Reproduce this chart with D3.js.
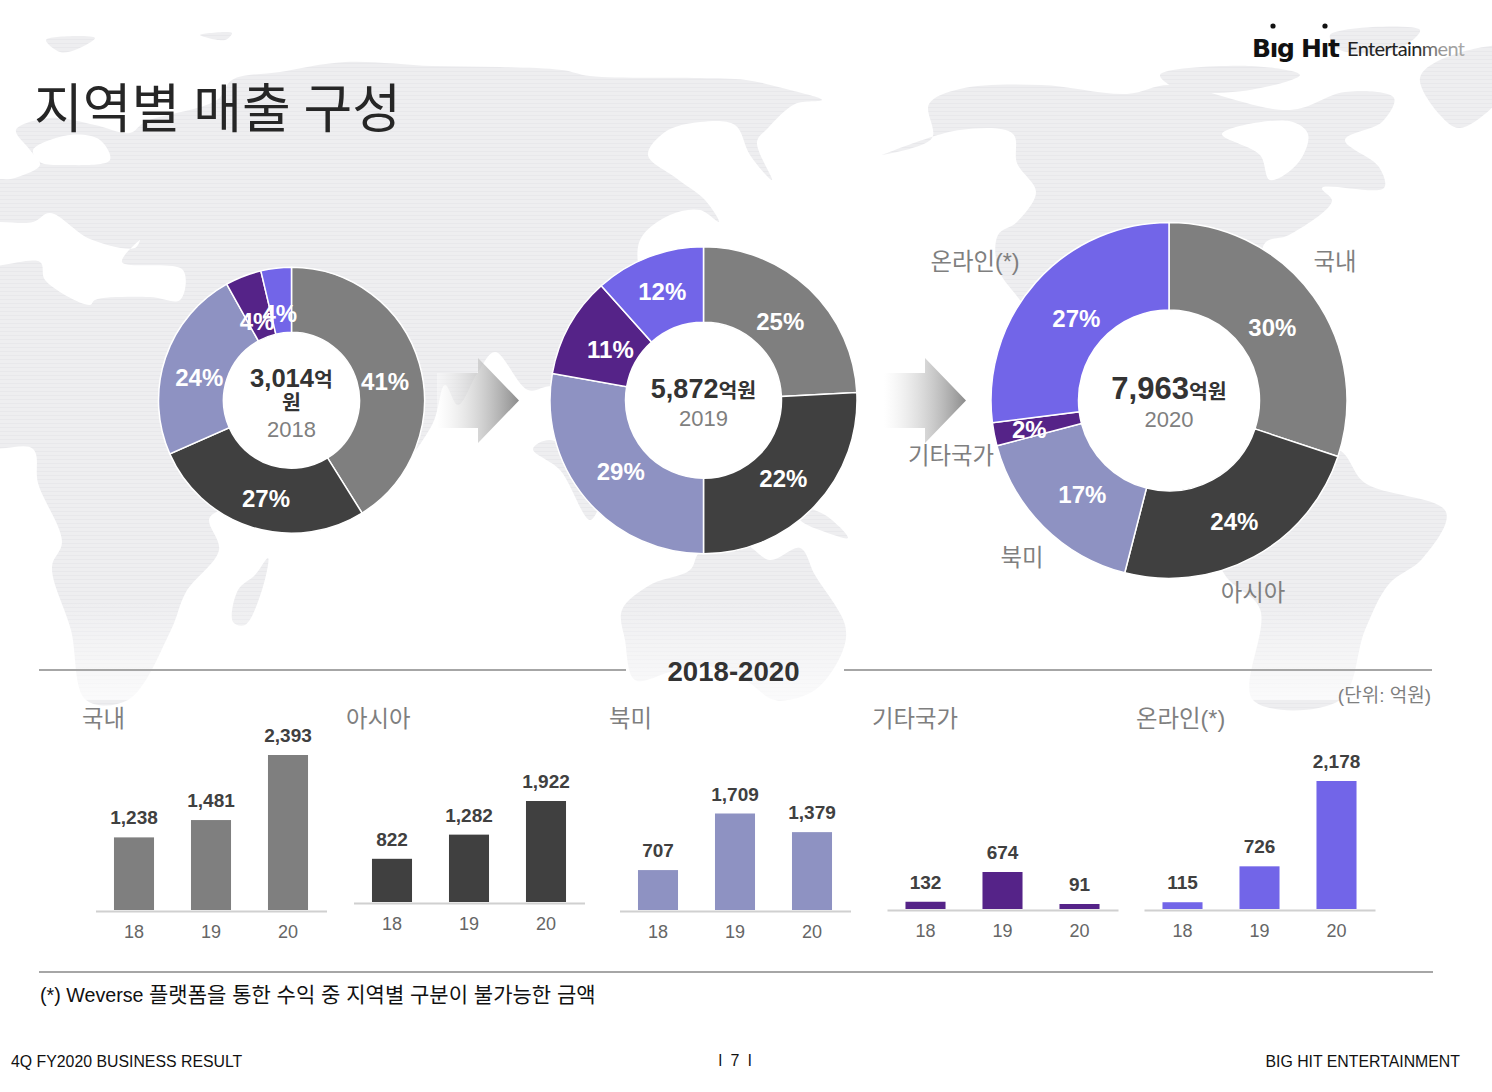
<!DOCTYPE html>
<html>
<head>
<meta charset="utf-8">
<style>
    body { margin: 0; background: white; }
    text { font-family: "Liberation Sans", "Noto Sans CJK KR", sans-serif; }
    .kr { font-family: "Noto Sans CJK KR", sans-serif; }
</style>
<script src="https://cdn.jsdelivr.net/npm/d3@7"></script>
</head>
<body>
<svg id="chart" width="1492" height="1092"></svg>
<script>
// ---- data ----
const regions = ["국내", "아시아", "북미", "기타국가", "온라인(*)"];
const years = ["18", "19", "20"];
const valuesDomestic = [1238, 1481, 2393];
const valuesAsia = [822, 1282, 1922];
const valuesNorthAmerica = [707, 1709, 1379];
const valuesOther = [132, 674, 91];
const valuesOnline = [115, 726, 2178];
const regionValues = [valuesDomestic, valuesAsia, valuesNorthAmerica, valuesOther, valuesOnline];

// slice sizes measured from the donuts (the 2019 donut is not drawn to its labels)
const sliceShare2018 = [41.1, 27.3, 23.5, 4.4, 3.7];
const sliceShare2019 = [24.2, 25.8, 27.8, 10.6, 11.6];
const sliceShare2020 = [30.1, 23.9, 16.9, 2.1, 27.0];
const pctLabels2018 = ["41%", "27%", "24%", "4%", "4%"];
const pctLabels2019 = ["25%", "22%", "29%", "11%", "12%"];
const pctLabels2020 = ["30%", "24%", "17%", "2%", "27%"];
const totals = ["3,014", "5,872", "7,963"];
const donutYears = ["2018", "2019", "2020"];

const colors = ["#7f7f7f", "#404040", "#8e92c2", "#552388", "#7265e8"];

// ---- layout ----
const svg = d3.select("#chart");
const defs = svg.append("defs");

let pattern = defs.append("pattern").attr("id", "land").attr("patternUnits", "userSpaceOnUse")
    .attr("width", 8).attr("height", 4);
pattern.append("rect").attr("width", 8).attr("height", 4).attr("fill", "#eeeef0");
pattern.append("rect").attr("y", 3).attr("width", 8).attr("height", 1).attr("fill", "#e8e8eb");

let fade = defs.append("linearGradient").attr("id", "fade").attr("x1", 0).attr("x2", 0).attr("y1", 0).attr("y2", 1);
fade.append("stop").attr("offset", 0).attr("stop-color", "white").attr("stop-opacity", 0);
fade.append("stop").attr("offset", 1).attr("stop-color", "white").attr("stop-opacity", 0.75);

let arrowGrad = defs.append("linearGradient").attr("id", "arrow");
arrowGrad.append("stop").attr("offset", 0).attr("stop-color", "#ffffff").attr("stop-opacity", 0.4);
arrowGrad.append("stop").attr("offset", 1).attr("stop-color", "#8c8c8c");

// background world map, rough outlines only
const landShapes = [
    // afro-eurasia
    [[-20,185],[15,178],[40,165],[30,150],[16,130],[50,118],[95,125],[130,133],[145,122],[217,100],[232,80],[280,72],[345,62],[432,66],[500,67],[562,70],[590,76],[700,78],[746,80],[790,90],[822,100],[795,104],[768,128],[757,142],[772,180],[750,155],[735,125],[700,122],[665,132],[648,155],[676,178],[705,200],[719,222],[700,210],[670,215],[640,240],[640,300],[620,400],[552,386],[528,390],[495,352],[478,372],[458,405],[445,385],[432,425],[385,480],[300,500],[210,517],[219,550],[186,592],[171,630],[128,700],[86,700],[71,630],[52,567],[62,542],[38,483],[33,449],[-20,443]],
    // madagascar
    [[268,558],[262,590],[245,625],[233,622],[238,590],[255,575]],
    // se asia
    [[533,449],[560,470],[590,520],[600,500],[590,470],[550,440]],
    // new guinea
    [[793,505],[825,515],[848,538],[825,532],[800,520]],
    // australia
    [[625,640],[622,610],[650,585],[690,570],[700,552],[745,545],[770,560],[800,548],[815,575],[845,625],[843,650],[815,690],[775,700],[745,680],[700,665],[670,672],[635,680]],
    // north america
    [[882,155],[932,138],[929,104],[960,89],[1041,85],[1127,94],[1170,85],[1290,110],[1345,92],[1394,98],[1382,122],[1345,140],[1379,167],[1384,188],[1322,188],[1332,201],[1289,235],[1265,243],[1260,300],[1240,420],[1120,420],[1020,300],[998,268],[998,235],[1017,222],[1036,192],[1017,163],[1013,134],[960,130]],
    // south america
    [[1200,500],[1336,449],[1365,483],[1446,512],[1422,559],[1389,584],[1365,630],[1340,700],[1253,700],[1260,609],[1225,575]],
    // greenland and arctic islands
    [[1510,48],[1440,60],[1420,78],[1440,115],[1460,128],[1510,85]],
    [[1160,75],[1251,66],[1300,75],[1250,90],[1180,90]],
    [[1330,35],[1420,30],[1400,48],[1340,50]],
    [[46,40],[95,38],[75,50],[60,52]],
    [[200,35],[232,33],[225,40]]
];
const seaShapes = [
    [[-20,226],[33,222],[50,213],[90,239],[135,248],[140,240],[122,262],[183,270],[180,300],[150,297],[95,300],[90,305],[45,280],[40,262],[-20,264]],
    [[33,150],[70,135],[100,140],[110,160],[65,165],[40,162]],
    [[1222,134],[1289,121],[1308,134],[1298,163],[1270,180],[1260,155]]
];

const blob = d3.line().curve(d3.curveCatmullRomClosed.alpha(0.5));
svg.append("g").selectAll("path").data(landShapes).enter().append("path")
    .attr("d", d => blob(d)).attr("fill", "url(#land)");
svg.append("g").selectAll("path").data(seaShapes).enter().append("path")
    .attr("d", d => blob(d)).attr("fill", "white");
svg.append("rect").attr("x", 0).attr("y", 600).attr("width", 1492).attr("height", 100).attr("fill", "url(#fade)");

// title + logo
svg.append("text").attr("class", "kr").attr("x", 34).attr("y", 127.5).attr("font-size", 53).attr("word-spacing", 1).attr("fill", "#262626")
    .text("지역별 매출 구성");
svg.append("text").attr("x", 1252).attr("y", 57).attr("font-size", 25).attr("font-weight", "bold")
    .style("font-family", "DejaVu Sans").attr("textLength", 88).attr("fill", "#111").text("Bıg Hıt");
svg.selectAll(".dot").data([1273, 1325]).enter().append("circle").attr("cx", d => d).attr("cy", 26).attr("r", 2.6).attr("fill", "#111");
let logoGrad = defs.append("linearGradient").attr("id", "logo");
logoGrad.append("stop").attr("offset", 0.6).attr("stop-color", "#222");
logoGrad.append("stop").attr("offset", 0.8).attr("stop-color", "#999");
logoGrad.append("stop").attr("offset", 1).attr("stop-color", "#aaa");
svg.append("text").attr("x", 1347).attr("y", 56).attr("font-size", 20).attr("textLength", 118).style("font-family", "Lato")
    .attr("fill", "url(#logo)").text("Entertainment");

// arrows between the donuts
const arrowLine = d3.line();
[437, 884].forEach(x0 => {
    const head = x0 + 41;
    svg.append("path")
        .attr("d", arrowLine([[x0, 373], [head, 373], [head, 358], [head + 41, 400.5], [head, 443], [head, 428], [x0, 428]]) + "Z")
        .attr("fill", "url(#arrow)");
});

// ---- donuts ----
const donuts = [
    {cx: 291.5, cy: 400.3, outer: 133, inner: 68, shares: sliceShare2018, labels: pctLabels2018,
     offsets: [[-3,8.5],[4,2],[3,9],[2,15],[0,13]], totalSize: 25.6, totalY: 387, unitOneLine: false, yearY: 437},
    {cx: 703.5, cy: 400.3, outer: 153.5, inner: 78, shares: sliceShare2019, labels: pctLabels2019,
     offsets: [[-3,5],[-4,-1.5],[6,-3],[8,6],[0,-1]], totalSize: 27, totalY: 398, unitOneLine: true, yearY: 426},
    {cx: 1169, cy: 400.4, outer: 178, inner: 90.5, shares: sliceShare2020, labels: pctLabels2020,
     offsets: [[-5.5,6],[1,3],[8,-1],[-8,4],[8,7]], totalSize: 31, totalY: 399, unitOneLine: true, yearY: 427}
];

donuts.forEach((d, i) => {
    const g = svg.append("g").attr("transform", `translate(${d.cx},${d.cy})`);
    const arcs = d3.pie().sort(null)(d.shares);
    const arc = d3.arc().innerRadius(d.inner).outerRadius(d.outer);

    // the hole is white, the map does not show through
    g.append("circle").attr("r", d.inner).attr("fill", "white");

    g.selectAll("path").data(arcs).enter().append("path")
        .attr("d", arc)
        .attr("fill", (a, k) => colors[k])
        .attr("stroke", "white").attr("stroke-width", 1.5);

    g.selectAll("text.pct").data(arcs).enter().append("text").attr("class", "pct")
        .attr("x", (a, k) => arc.centroid(a)[0] + d.offsets[k][0])
        .attr("y", (a, k) => arc.centroid(a)[1] + d.offsets[k][1] + 8.5)
        .attr("text-anchor", "middle").attr("font-size", 24).attr("font-weight", "bold").attr("fill", "white")
        .text((a, k) => d.labels[k]);

    // middle of the ring
    const total = svg.append("text").attr("x", d.cx).attr("y", d.totalY).attr("text-anchor", "middle")
        .attr("font-weight", "bold").attr("fill", "#333");
    total.append("tspan").attr("font-size", d.totalSize).text(totals[i]);
    total.append("tspan").attr("class", "kr").attr("font-size", 20.5).text(d.unitOneLine ? "억원" : "억");
    if (!d.unitOneLine) {
        svg.append("text").attr("class", "kr").attr("x", d.cx).attr("y", 410).attr("text-anchor", "middle")
            .attr("font-weight", "bold").attr("font-size", 20.5).attr("fill", "#333").text("원");
    }
    svg.append("text").attr("x", d.cx).attr("y", d.yearY).attr("text-anchor", "middle")
        .attr("font-size", 22).attr("fill", "#7f7f7f").text(donutYears[i]);
});

// region names around the last donut
const outsideLabels = [[1335, 270], [1253, 601], [1022, 566], [951, 464], [975, 270]];
svg.selectAll("text.outside").data(regions).enter().append("text").attr("class", "outside")
    .attr("x", (d, i) => outsideLabels[i][0]).attr("y", (d, i) => outsideLabels[i][1])
    .attr("text-anchor", "middle").attr("font-size", 23.4).attr("fill", "#7f7f7f").text(d => d);

// ---- section rules ----
svg.selectAll("line.rule").data([[39, 626, 670], [844, 1432, 670], [39, 1433, 972]]).enter().append("line").attr("class", "rule")
    .attr("x1", d => d[0]).attr("x2", d => d[1]).attr("y1", d => d[2]).attr("y2", d => d[2])
    .attr("stroke", "#a6a6a6").attr("stroke-width", 2);
svg.append("text").attr("x", 733.5).attr("y", 681).attr("text-anchor", "middle").attr("font-size", 27.6)
    .attr("font-weight", "bold").attr("fill", "#333").text("2018-2020");
svg.append("text").attr("x", 1431).attr("y", 702).attr("text-anchor", "end").attr("font-size", 19)
    .attr("fill", "#7f7f7f").text("(단위: 억원)");

// ---- small bar panels ----
// the domestic panel's bars do not start from zero in the source, so its domain starts higher
const panels = [
    {x0: 95.5, x1: 326.5, base: 910, top: 755, start: 220, titleX: 82},
    {x0: 353.5, x1: 584.5, base: 902, top: 801, start: 0, titleX: 346},
    {x0: 619.5, x1: 850.5, base: 910, top: 813.5, start: 0, titleX: 609},
    {x0: 887, x1: 1118, base: 909, top: 872, start: 0, titleX: 872},
    {x0: 1144, x1: 1375, base: 909, top: 781, start: 0, titleX: 1136}
];

panels.forEach((p, i) => {
    const values = regionValues[i];
    const x = d3.scaleBand().domain(years).range([p.x0, p.x1]).paddingInner(0.48).paddingOuter(0.24);
    const y = d3.scaleLinear().domain([p.start, d3.max(values)]).range([p.base, p.top]);
    const g = svg.append("g");

    g.selectAll("rect").data(values).enter().append("rect")
        .attr("x", (d, k) => x(years[k]))
        .attr("y", d => y(d))
        .attr("width", x.bandwidth())
        .attr("height", d => p.base - y(d))
        .attr("fill", colors[i]);

    g.selectAll("text.val").data(values).enter().append("text").attr("class", "val")
        .attr("x", (d, k) => x(years[k]) + x.bandwidth() / 2)
        .attr("y", d => y(d) - 13)
        .attr("text-anchor", "middle").attr("font-size", 19).attr("font-weight", "bold").attr("fill", "#404040")
        .text(d => d3.format(",")(d));

    const axis = g.append("g").attr("transform", `translate(0,${p.base + 1})`)
        .call(d3.axisBottom(x).tickSize(0).tickPadding(14));
    axis.select(".domain").attr("stroke", "#d0d0d0").attr("stroke-width", 2);
    axis.selectAll("text").attr("font-size", 18).attr("fill", "#666").style("font-family", "Liberation Sans");

    g.append("text").attr("x", p.titleX).attr("y", 727).attr("font-size", 23.4)
        .attr("fill", "#7f7f7f").text(regions[i]);
});

// ---- notes + footer ----
const note = svg.append("text").attr("x", 40).attr("y", 1002).attr("fill", "#111");
note.append("tspan").attr("font-size", 19.7).text("(*) Weverse ");
note.append("tspan").attr("font-size", 21).text("플랫폼을 통한 수익 중 지역별 구분이 불가능한 금액");
svg.append("text").attr("x", 11).attr("y", 1067).attr("font-size", 15.85).attr("fill", "#111").text("4Q FY2020 BUSINESS RESULT");
svg.append("text").attr("x", 735).attr("y", 1066).attr("text-anchor", "middle").attr("font-size", 16).attr("word-spacing", 4).attr("fill", "#111")
    .text("l 7 l");
svg.append("text").attr("x", 1460).attr("y", 1067).attr("text-anchor", "end").attr("font-size", 15.85).attr("fill", "#111").text("BIG HIT ENTERTAINMENT");
</script>
</body>
</html>
